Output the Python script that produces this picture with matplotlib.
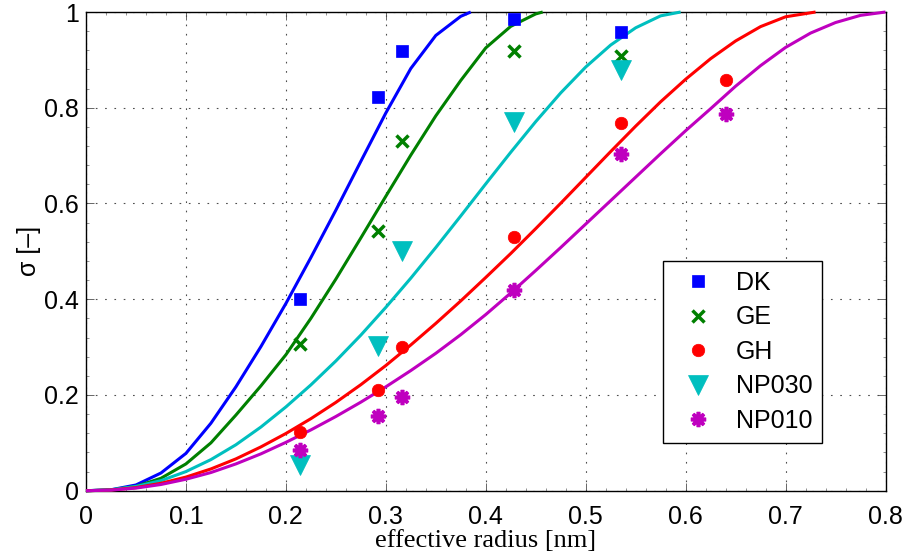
import matplotlib
matplotlib.use('Agg')
import matplotlib.pyplot as plt
from matplotlib.ticker import MultipleLocator

# measured points
r_pts = [0.214, 0.292, 0.316, 0.428, 0.535, 0.640]
dk = [0.400, 0.822, 0.919, 0.985, 0.959]
ge = [0.307, 0.543, 0.730, 0.919, 0.908]
gh = [0.122, 0.210, 0.300, 0.531, 0.768, 0.857]
np030 = [0.054, 0.303, 0.500, 0.771, 0.878]
np010 = [0.086, 0.157, 0.196, 0.420, 0.703, 0.787]

# fitted curves
x_dk = [0, 0.025, 0.05, 0.075, 0.1, 0.125, 0.15, 0.175, 0.2, 0.225, 0.25, 0.275,
        0.3, 0.325, 0.35, 0.375, 0.385]
y_dk = [0, 0.002, 0.012, 0.037, 0.078, 0.141, 0.217, 0.301, 0.391, 0.487, 0.586, 0.688,
        0.789, 0.882, 0.951, 0.991, 1.0]
x_ge = [0, 0.025, 0.05, 0.075, 0.1, 0.125, 0.15, 0.175, 0.2, 0.225, 0.25, 0.275,
        0.3, 0.325, 0.35, 0.375, 0.4, 0.425, 0.45, 0.457]
y_ge = [0, 0.0015, 0.009, 0.026, 0.056, 0.1, 0.158, 0.219, 0.284, 0.36, 0.442, 0.528,
        0.615, 0.701, 0.783, 0.857, 0.925, 0.97, 0.996, 1.0]
x_np030 = [0, 0.025, 0.05, 0.075, 0.1, 0.125, 0.15, 0.175, 0.2, 0.225, 0.25, 0.275,
           0.3, 0.325, 0.35, 0.375, 0.4, 0.425, 0.45, 0.475, 0.5, 0.525, 0.55, 0.575, 0.595]
y_np030 = [0, 0.002, 0.009, 0.021, 0.04, 0.065, 0.096, 0.133, 0.175, 0.221, 0.271, 0.325,
           0.383, 0.444, 0.508, 0.574, 0.641, 0.707, 0.771, 0.831, 0.885, 0.931, 0.967, 0.992, 1.0]
x_gh = [0, 0.025, 0.05, 0.075, 0.1, 0.125, 0.15, 0.175, 0.2, 0.225, 0.25, 0.275,
        0.3, 0.325, 0.35, 0.375, 0.4, 0.425, 0.45, 0.475, 0.5, 0.525, 0.55, 0.575,
        0.6, 0.625, 0.65, 0.675, 0.7, 0.73]
y_gh = [0, 0.0015, 0.0065, 0.0155, 0.0285, 0.0455, 0.0665, 0.0915, 0.1195, 0.1505, 0.1845,
        0.2215, 0.2615, 0.3045, 0.3495, 0.3965, 0.4455, 0.4955, 0.5475, 0.6005, 0.6545,
        0.7085, 0.7615, 0.8125, 0.8595, 0.9025, 0.9395, 0.9695, 0.99, 1.0]
x_np010 = [0, 0.025, 0.05, 0.075, 0.1, 0.125, 0.15, 0.175, 0.2, 0.225, 0.25, 0.275,
           0.3, 0.325, 0.35, 0.375, 0.4, 0.425, 0.45, 0.475, 0.5, 0.525, 0.55, 0.575,
           0.6, 0.625, 0.65, 0.675, 0.7, 0.725, 0.75, 0.775, 0.8]
y_np010 = [0, 0.0013, 0.0055, 0.013, 0.024, 0.038, 0.056, 0.077, 0.101, 0.127, 0.155, 0.185,
           0.217, 0.251, 0.287, 0.326, 0.368, 0.413, 0.46, 0.508, 0.557, 0.606, 0.655, 0.704,
           0.752, 0.798, 0.845, 0.888, 0.926, 0.956, 0.978, 0.993, 1.0]

xticks = [0, 0.1, 0.2, 0.3, 0.4, 0.5, 0.6, 0.7, 0.8]
xtick_labels = ['0', '0.1', '0.2', '0.3', '0.4', '0.5', '0.6', '0.7', '0.8']
yticks = [0, 0.2, 0.4, 0.6, 0.8, 1]
ytick_labels = ['0', '0.2', '0.4', '0.6', '0.8', '1']

blue = (0, 0, 1)
green = (0, 0.5, 0)
red = (1, 0, 0)
cyan = (0, 0.75, 0.75)
magenta = (0.75, 0, 0.75)

plt.rcParams['font.family'] = ['Liberation Sans', 'DejaVu Sans']
plt.rcParams['lines.scale_dashes'] = False

fig = plt.figure(figsize=(9.07, 5.56), dpi=100)
ax = fig.add_axes([0.0948, 0.1174, 0.8815, 0.861])

lw = 2.2
for xs, ys, c in [(x_dk, y_dk, blue), (x_ge, y_ge, green), (x_np030, y_np030, cyan),
                  (x_gh, y_gh, red), (x_np010, y_np010, magenta)]:
    ax.plot(xs, ys, '-', color=c, lw=lw, clip_on=False, zorder=3,
            solid_joinstyle='round', solid_capstyle='butt')

ax.plot(r_pts[:5], dk, 's', color=blue, ms=9, mew=0.5, label='DK', zorder=4, clip_on=False)
ax.plot(r_pts[:5], ge, 'x', color=green, ms=8, mew=2.5, label='GE', zorder=4)
ax.plot(r_pts, gh, 'o', color=red, ms=9, mew=0.5, label='GH', zorder=4)
ax.plot(r_pts[:5], np030, 'v', color=cyan, ms=14, mew=0.5, label='NP030', zorder=4)
ax.plot(r_pts, np010, marker=(8, 2, 0), ls='none', color=magenta, ms=11, mew=2.6,
        label='NP010', zorder=4)

ax.set_xlim(0, 0.8)
ax.set_ylim(0, 1)
ax.set_xticks(xticks)
ax.set_xticklabels(xtick_labels)
ax.set_yticks(yticks)
ax.set_yticklabels(ytick_labels)
ax.xaxis.set_minor_locator(MultipleLocator(0.02))
ax.yaxis.set_minor_locator(MultipleLocator(0.04))
ax.tick_params(which='major', direction='in', length=6, width=0.6, color='0.3',
               top=True, right=True, labelsize=18, pad=5)
ax.tick_params(axis='x', which='major', pad=10)
ax.tick_params(which='minor', direction='in', length=2.5, width=0.5, color='0.4',
               top=True, right=True)
ax.grid(True, which='major', color='0.3', linestyle=(0, (1.2, 5.5)), linewidth=0.8)
for s in ax.spines.values():
    s.set_linewidth(1.0)

ax.set_xlabel('effective radius [nm]', family=['Liberation Serif', 'DejaVu Serif'],
              fontsize=19, labelpad=1)
ax.set_ylabel('σ [–]', fontsize=18, labelpad=2)

leg = ax.legend(loc='center', bbox_to_anchor=(0.8215, 0.29), fontsize=18, frameon=True,
                fancybox=False, edgecolor='k', framealpha=1, borderpad=0.4,
                handlelength=2.0, handletextpad=0.5, labelspacing=0.42, numpoints=1,
                borderaxespad=0)
leg.get_frame().set_linewidth(1.0)

fig.savefig('out.png', dpi=100)
